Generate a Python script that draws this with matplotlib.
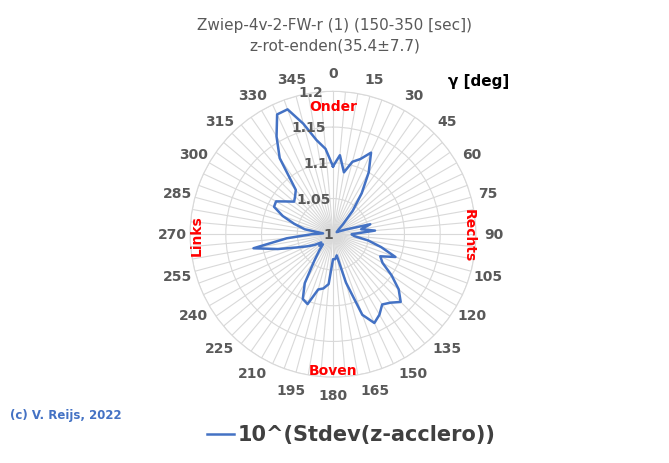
import numpy as np
import matplotlib
matplotlib.use("Agg")
import matplotlib.pyplot as plt

angles_deg = list(range(0, 360, 5))
values = [1.095,1.111,1.088,1.105,1.112,1.126,1.10,1.07,1.043,1.02,1.01,1.008,
          1.006,1.01,1.02,1.054,1.04,1.059,1.026,1.03,1.05,1.07,1.093,1.073,
          1.08,1.10,1.12,1.134,1.125,1.12,1.13,1.137,1.12,1.07,1.03,1.035,
          1.035,1.07,1.077,1.08,1.104,1.10,1.079,1.046,1.03,1.02,1.025,1.02,
          1.03,1.04,1.054,1.08,1.113,1.065,1.03,1.014,1.04,1.056,1.075,1.091,
          1.092,1.08,1.071,1.075,1.081,1.13,1.158,1.185,1.186,1.16,1.134,1.12]
tick_labels = [str(a) for a in range(0, 360, 15)]
r_ticks = [1, 1.05, 1.1, 1.15, 1.2]

fig = plt.figure(figsize=(6.69, 4.64), dpi=100)
ax = fig.add_axes([0.284, 0.185, 0.4275, 0.616], projection='polar')
ax.set_theta_zero_location('N')
ax.set_theta_direction(-1)
th = np.deg2rad(angles_deg + [angles_deg[0]])
ax.plot(th, values + [values[0]], color='#4472C4', lw=1.8, zorder=3)
ax.set_ylim(1, 1.2)
ax.set_yticks(r_ticks)
ax.set_yticklabels([])
ax.set_xticks(np.deg2rad(angles_deg))
ax.set_xticklabels([])
ax.grid(color='#d9d9d9', lw=0.8)
ax.spines['polar'].set_color('#d9d9d9')
for a in range(0, 360, 15):
    ax.text(np.deg2rad(a), 1.225, str(a), ha='center', va='center',
            fontsize=10, fontweight='bold', color='#595959')
for r in r_ticks:
    lbl = f"{r:g}"
    ax.text(np.deg2rad(-4), r, lbl, ha='right', va='center', fontsize=10,
            fontweight='bold', color='#595959')
red = dict(color='red', fontsize=10, fontweight='bold', ha='center', va='center')
ax.text(0, 1.18, 'Onder', **red)
ax.text(np.deg2rad(90), 1.19, 'Rechts', rotation=-90, **red)
ax.text(np.pi, 1.19, 'Boven', **red)
ax.text(np.deg2rad(270), 1.19, 'Links', rotation=90, **red)

fig.text(0.5, 0.945, 'Zwiep-4v-2-FW-r (1) (150-350 [sec])', ha='center', va='center',
         fontsize=11, color='#595959')
fig.text(0.5, 0.9, 'z-rot-enden(35.4±7.7)', ha='center', va='center',
         fontsize=11, color='#595959')
fig.text(0.715, 0.825, 'γ [deg]', ha='center', va='center', fontsize=11,
         fontweight='bold', color='black')
fig.text(0.015, 0.105, '(c) V. Reijs, 2022', ha='left', va='center', fontsize=8.5,
         fontweight='bold', color='#4472C4')
fig.lines.append(matplotlib.lines.Line2D([0.31, 0.35], [0.062, 0.062],
                 transform=fig.transFigure, color='#4472C4', lw=1.8))
fig.text(0.355, 0.062, '10^(Stdev(z-acclero))', ha='left', va='center',
         fontsize=15, fontweight='bold', color='#404040')
fig.savefig('out.png', dpi=100)
